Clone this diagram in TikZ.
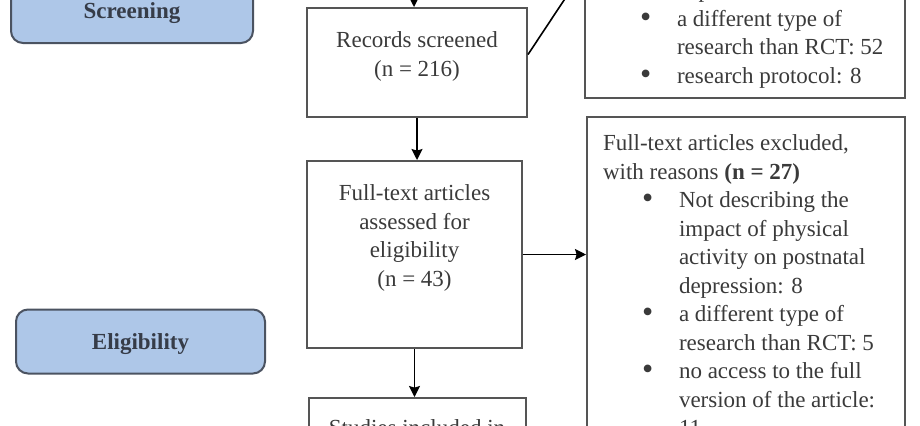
\documentclass[tikz,border=0pt]{standalone}
\usepackage{fontspec}
\setmainfont{Liberation Serif}
\usetikzlibrary{arrows.meta,positioning,calc}

\definecolor{stagefill}{HTML}{AEC7E8}
\definecolor{stageedge}{HTML}{4B5361}
\definecolor{stagetext}{HTML}{363C48}
\definecolor{boxedge}{HTML}{555555}
\definecolor{boxtext}{HTML}{3A3A3A}

% bullet list used in the exclusion boxes
\newcommand{\reasonmark}{\raisebox{-0.5pt}{\fontsize{16}{14}\selectfont\textbullet}}
\newenvironment{reasons}{\begin{list}{\reasonmark}{%
  \setlength\leftmargin{38pt}\setlength\labelwidth{18.5pt}%
  \setlength\labelsep{0pt}\setlength\itemsep{0pt}%
  \setlength\parsep{0pt}\setlength\topsep{0pt}\setlength\partopsep{0pt}%
  \renewcommand\makelabel[1]{##1\hfil}}}{\end{list}}

\begin{document}
\begin{tikzpicture}[x=0.5pt,y=-0.5pt,>={Stealth[length=5.5pt,width=5.5pt,inset=0.8pt]},
  font=\fontsize{11.5}{14.25}\selectfont,
  stage/.style={draw=stageedge,fill=stagefill,line width=1pt,rounded corners=6pt,
    text=stagetext,text depth=0pt,font=\fontsize{11.5}{14.25}\selectfont\bfseries},
  flowbox/.style={draw=boxedge,line width=1pt,inner sep=0pt,text=boxtext},
  reasonbox/.style={flowbox,inner xsep=8pt},
  link/.style={->,draw=black,line width=0.8pt}]
  \useasboundingbox (0,0) rectangle (920,425);
  \clip (0,0) rectangle (920,425);

  % stage labels
  \node[stage,minimum width=121pt,minimum height=32pt] (screening) at (132,11) {Screening};
  \node[stage,minimum width=124.5pt,minimum height=32pt] (eligibility) at (140.5,341.5) {Eligibility};

  % main flow
  \coordinate (intop) at (414,-40);
  \node[flowbox] (screened) at (417,62.5)
    {\parbox[c][54.5pt][t]{110pt}{\centering\vspace*{12pt}Records screened\\(n = 216)}};
  \node[flowbox] (fulltext) at (414.5,254.5)
    {\parbox[c][93.5pt][t]{107.5pt}{\centering\vspace*{12pt}Full-text articles\\assessed for\\eligibility\\(n = 43)}};
  \node[flowbox] (included) at (417,449)
    {\parbox[c][51pt][t]{108.5pt}{\centering\vspace*{11pt}Studies included in}};

  % exclusions
  \node[reasonbox] (excl1) at (745,-30)
    {\parbox[c][128pt][b]{144pt}{\raggedright
      \begin{reasons}
        \item[] depression: 8
        \item a different type of\newline research than RCT: 52
        \item research protocol: 8\strut
      \end{reasons}\vspace*{3.2pt}}};
  \node[reasonbox] (excl2) at (746,317)
    {\parbox[c][200pt][t]{143pt}{\raggedright\vspace*{9pt}%
      Full-text articles excluded,\\with reasons \textbf{(n = 27)}
      \begin{reasons}
        \item Not describing the\newline impact of physical\newline activity on postnatal\newline depression: 8
        \item a different type of\newline research than RCT: 5
        \item no access to the full\newline version of the article:\newline 11
      \end{reasons}}};

  \draw[link] (intop) -- (intop |- screened.north);
  \draw[line width=0.8pt] ([yshift=4pt]screened.east) -- (excl1.west);
  \draw[link] (screened.south) -- (screened.south |- fulltext.north);
  \draw[link] (fulltext.east) -- (fulltext.east -| excl2.west);
  \draw[link] (fulltext.south) -- (fulltext.south |- included.north);
\end{tikzpicture}
\end{document}
